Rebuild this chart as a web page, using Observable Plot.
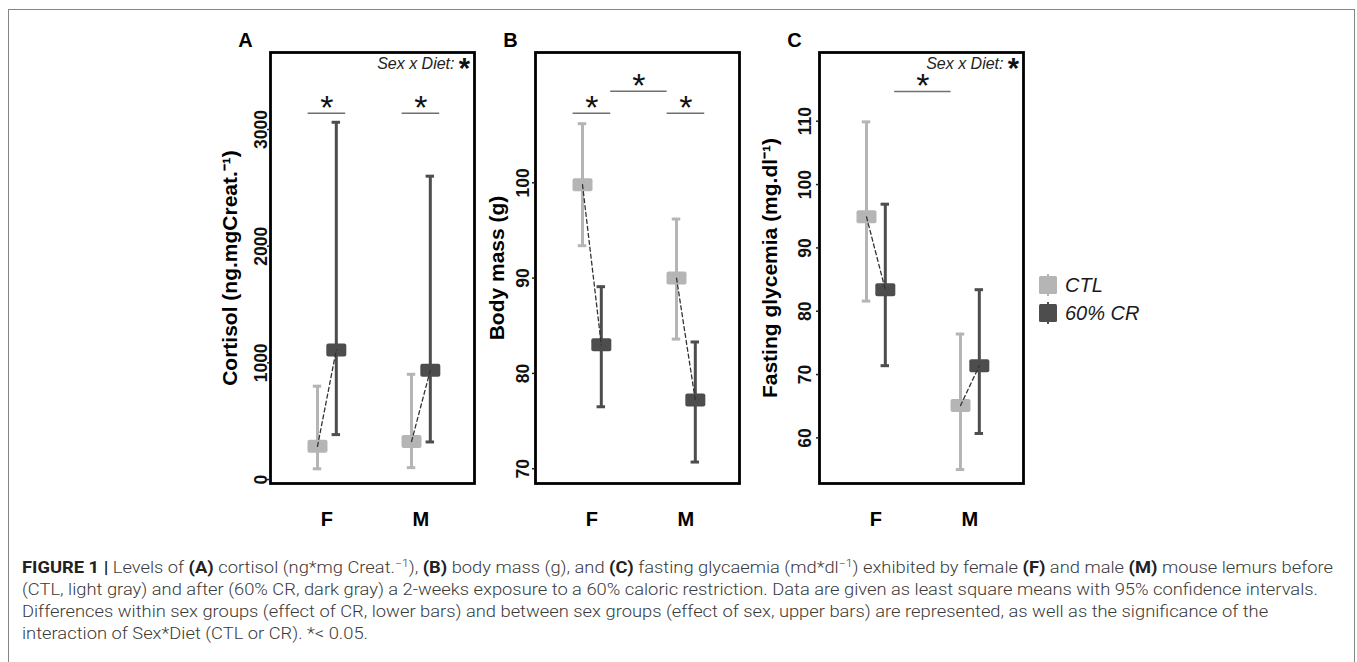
<!DOCTYPE html>
<html>
<head>
<meta charset="utf-8">
<script src="https://cdn.jsdelivr.net/npm/d3@7"></script>
<script src="https://cdn.jsdelivr.net/npm/@observablehq/plot@0.6"></script>
<style>
html, body { margin: 0; padding: 0; background: #fff; overflow: hidden; }
#fig { position: relative; width: 1357px; height: 662px; overflow: hidden; font-family: "Liberation Sans", Arial, sans-serif; }
#border { position: absolute; left: 8px; top: 9px; width: 1345px; height: 700px; border: 1.5px solid #858585; border-bottom: none; }
.panel { position: absolute; top: 0; }
.panel g[aria-label="y-axis tick label"] text { font-weight: bold; }
#legend { position: absolute; left: 1038px; top: 271px; font-style: italic; font-size: 20px; color: #1a1a1a; }
.key { display: flex; align-items: center; height: 28px; }
.key span { margin-left: 7px; }
#caption { position: absolute; left: 22px; top: 557px; font-family: Roboto, "Liberation Sans", sans-serif; font-weight: 300; font-size: 16.5px; line-height: 22px; color: #3a3a3a; white-space: nowrap; transform-origin: 0 0; }
#caption b { font-weight: 700; color: #222; }
#caption sup { font-size: 11px; line-height: 0; vertical-align: 6px; }
</style>
</head>
<body>
<div id="fig">
  <div id="border"></div>
  <div id="pA" class="panel"></div>
  <div id="pB" class="panel"></div>
  <div id="pC" class="panel"></div>
  <div id="legend"></div>
  <div id="caption">
    <span id="line1"><b>FIGURE 1 |</b> Levels of <b>(A)</b> cortisol (ng*mg Creat.<sup>−1</sup>), <b>(B)</b> body mass (g), and <b>(C)</b> fasting glycaemia (md*dl<sup>−1</sup>) exhibited by female <b>(F)</b> and male <b>(M)</b> mouse lemurs before</span><br>
    <span>(CTL, light gray) and after (60% CR, dark gray) a 2-weeks exposure to a 60% caloric restriction. Data are given as least square means with 95% confidence intervals.</span><br>
    <span>Differences within sex groups (effect of CR, lower bars) and between sex groups (effect of sex, upper bars) are represented, as well as the significance of the</span><br>
    <span>interaction of Sex*Diet (CTL or CR). *&lt; 0.05.</span>
  </div>
</div>
<script>
// ---------- DATA ----------
const sexes = ["F", "M"];
const diets = ["CTL", "60% CR"];
const dietColors = ["#b5b5b5", "#4d4d4d"];

// order of values: F-CTL, F-60% CR, M-CTL, M-60% CR
const cortisolMean = [285, 1111, 325, 937];
const cortisolLow  = [92, 385, 102, 322];
const cortisolHigh = [800, 3062, 902, 2600];
const cortisolTicks = [0, 1000, 2000, 3000];

const bodyMean = [99.8, 83.0, 90.0, 77.2];
const bodyLow  = [93.4, 76.5, 83.6, 70.7];
const bodyHigh = [106.2, 89.1, 96.2, 83.3];
const bodyTicks = [70, 80, 90, 100];

const glyMean = [94.9, 83.4, 65.1, 71.4];
const glyLow  = [81.6, 71.4, 55.0, 60.7];
const glyHigh = [109.9, 96.9, 76.4, 83.4];
const glyTicks = [60, 70, 80, 90, 100, 110];

// significance annotations
const sigWithinA = ["F", "M"]; const sigWithinYA = 3140; const sigBetweenYA = null; const interactionA = true;
const sigWithinB = ["F", "M"]; const sigWithinYB = 107.3; const sigBetweenYB = 109.6; const interactionB = false;
const sigWithinC = []; const sigWithinYC = null; const sigBetweenYC = 114.7; const interactionC = true;

// ---------- DRAWING ----------
const FONT = "'Liberation Sans', Arial, sans-serif";
const dodge = 0.1, cap = 0.045, sigHalf = 0.2;

const meanMarker = {
  draw(ctx) {
    const w = 10, h = 6.5, r = 2;
    ctx.moveTo(-w + r, -h); ctx.lineTo(w - r, -h); ctx.arcTo(w, -h, w, -h + r, r);
    ctx.lineTo(w, h - r); ctx.arcTo(w, h, w - r, h, r);
    ctx.lineTo(-w + r, h); ctx.arcTo(-w, h, -w, h - r, r);
    ctx.lineTo(-w, -h + r); ctx.arcTo(-w, -h, -w + r, -h, r);
    ctx.closePath();
  }
};

function makePanel(o) {
  const rows = [];
  sexes.forEach((sex, si) => diets.forEach((diet, di) => {
    const i = si * diets.length + di;
    rows.push({sex, diet, x: si + 1 + (di === 0 ? -dodge : dodge), mean: o.mean[i], low: o.low[i], high: o.high[i]});
  }));
  const pos = s => sexes.indexOf(s) + 1;
  const marks = [
    Plot.ruleX(rows, {x: "x", y1: "low", y2: "high", stroke: "diet", strokeWidth: 3}),
    Plot.ruleY(rows, {x1: d => d.x - cap, x2: d => d.x + cap, y: "low", stroke: "diet", strokeWidth: 3}),
    Plot.ruleY(rows, {x1: d => d.x - cap, x2: d => d.x + cap, y: "high", stroke: "diet", strokeWidth: 3}),
    Plot.dot(rows, {x: "x", y: "mean", fill: "diet", stroke: "none", symbol: meanMarker, r: 8}),
    Plot.line(rows, {x: "x", y: "mean", z: "sex", stroke: "#333", strokeWidth: 1.3, strokeDasharray: "4,3"}),
    Plot.ruleY(o.within, {x1: s => pos(s) - sigHalf, x2: s => pos(s) + sigHalf, y: () => o.withinY, stroke: "#707070", strokeWidth: 1.5}),
    Plot.text(o.within, {x: s => pos(s), y: () => o.withinY, text: () => "*", fontSize: 34, lineAnchor: "bottom", dy: 6, fill: "#111"}),
  ];
  if (o.betweenY != null) {
    const bx1 = pos(sexes[0]) + sigHalf, bx2 = pos(sexes[1]) - sigHalf;
    marks.push(
      Plot.ruleY([o.betweenY], {x1: () => bx1, x2: () => bx2, y: d => d, stroke: "#707070", strokeWidth: 1.5}),
      Plot.text([o.betweenY], {x: () => (bx1 + bx2) / 2, y: d => d, text: () => "*", fontSize: 34, lineAnchor: "bottom", dy: 6, fill: "#111"})
    );
  }
  if (o.interaction) {
    marks.push(
      Plot.text(["Sex x Diet:"], {frameAnchor: "top-right", dx: -20, dy: 16, textAnchor: "end", lineAnchor: "bottom", fontSize: 16, fontStyle: "italic", fill: "#222"}),
      Plot.text(["*"], {frameAnchor: "top-right", dx: -10, dy: 25, textAnchor: "middle", lineAnchor: "bottom", fontSize: 29, fontWeight: "bold", fill: "#111"})
    );
  }
  marks.push(
    Plot.frame({stroke: "black", strokeWidth: 2.8}),
    Plot.axisX({ticks: [1, 2], tickFormat: d => sexes[d - 1], tickSize: 0, tickPadding: 28, fontSize: 20, fontWeight: "bold", fill: "#000", label: null}),
    Plot.axisY({ticks: o.ticks, tickFormat: d => String(d), tickRotate: -90, tickSize: 3, tickPadding: o.tickPad, strokeWidth: 1.5, stroke: "#222", fill: "#111", fontSize: 17.5, fontWeight: "bold", label: null}),
    Plot.text([o.title], {frameAnchor: "left", dx: -o.titleOff, rotate: -90, textAnchor: "middle", lineAnchor: "middle", fontSize: 21, fontWeight: "bold", fill: "#000"}),
    Plot.text([o.letter], {frameAnchor: "top-left", dx: -25, dy: -12, textAnchor: "middle", lineAnchor: "middle", fontSize: 20, fontWeight: "bold", fill: "#000"})
  );
  const chart = Plot.plot({
    width: 80 + 204 + 8, height: 545,
    marginLeft: 80, marginRight: 8, marginTop: 52, marginBottom: 62,
    style: {fontFamily: FONT, background: "transparent", color: "#222", overflow: "visible"},
    x: {domain: [0.4, 2.57]},
    y: {domain: o.domain},
    color: {domain: diets, range: dietColors},
    marks
  });
  const host = document.getElementById(o.id);
  host.style.left = (o.boxLeft - 80) + "px";
  host.appendChild(chart);
}

makePanel({id: "pA", letter: "A", boxLeft: 270, mean: cortisolMean, low: cortisolLow, high: cortisolHigh, ticks: cortisolTicks,
  domain: [-34, 3660], title: "Cortisol (ng.mgCreat.⁻¹)", tickPad: 1, titleOff: 40,
  within: sigWithinA, withinY: sigWithinYA, betweenY: sigBetweenYA, interaction: interactionA});
makePanel({id: "pB", letter: "B", boxLeft: 535, mean: bodyMean, low: bodyLow, high: bodyHigh, ticks: bodyTicks,
  domain: [68.45, 113.67], title: "Body mass (g)", tickPad: 4, titleOff: 38,
  within: sigWithinB, withinY: sigWithinYB, betweenY: sigBetweenYB, interaction: interactionB});
makePanel({id: "pC", letter: "C", boxLeft: 819, mean: glyMean, low: glyLow, high: glyHigh, ticks: glyTicks,
  domain: [52.8, 120.85], title: "Fasting glycemia (mg.dl⁻¹)", tickPad: 6, titleOff: 49,
  within: sigWithinC, withinY: sigWithinYC, betweenY: sigBetweenYC, interaction: interactionC});

// legend
const legend = document.getElementById("legend");
diets.forEach((d, i) => {
  const row = document.createElement("div");
  row.className = "key";
  row.innerHTML = `<svg width="20" height="26"><line x1="10" x2="10" y1="2" y2="24" stroke="${dietColors[i]}" stroke-width="2"/><rect x="1" y="4" width="18" height="18" rx="1.5" fill="${dietColors[i]}"/></svg><span>${d}</span>`;
  legend.appendChild(row);
});

// caption width fit
const cap1 = document.getElementById("line1");
const w1 = cap1.getBoundingClientRect().width;
if (w1 > 0) document.getElementById("caption").style.transform = `scaleX(${1311 / w1})`;
</script>
</body>
</html>
